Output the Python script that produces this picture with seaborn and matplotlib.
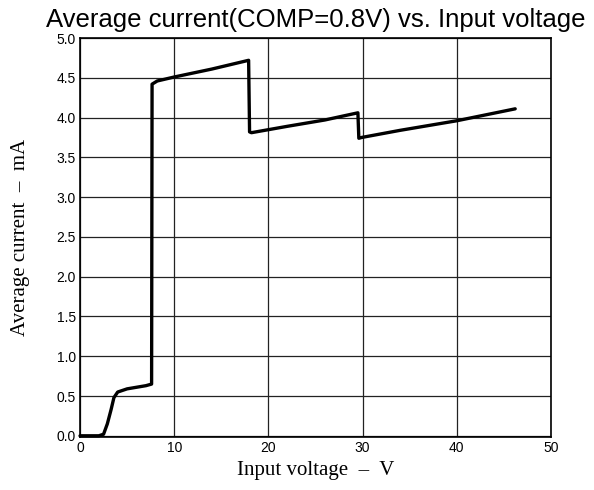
import matplotlib
matplotlib.use("Agg")
import matplotlib.pyplot as plt
import seaborn as sns
import pandas as pd

# values
voltage = [0.0, 2.0, 2.5, 2.9, 3.3, 3.6, 4.0, 5.0, 6.0, 7.0, 7.6, 7.65, 8.2, 10.0, 14.0, 17.9,
           18.0, 18.2, 22.0, 26.0, 29.5, 29.6, 29.9, 34.0, 40.0, 46.2]
current = [0.0, 0.0, 0.02, 0.15, 0.33, 0.48, 0.55, 0.59, 0.61, 0.63, 0.65, 4.42, 4.46, 4.51, 4.61, 4.72,
           3.82, 3.81, 3.89, 3.97, 4.06, 3.74, 3.75, 3.84, 3.96, 4.11]

df = pd.DataFrame({"Input voltage": voltage, "Average current": current})

sns.set_style("white")
plt.rcParams["font.family"] = ["Liberation Sans", "DejaVu Sans"]
plt.rcParams["text.color"] = "black"
plt.rcParams["axes.labelcolor"] = "black"
plt.rcParams["xtick.color"] = "black"
plt.rcParams["ytick.color"] = "black"

fig = plt.figure(figsize=(5.94, 4.90), dpi=100)
ax = fig.add_axes([0.1347, 0.1082, 0.7929, 0.8142])

sns.lineplot(data=df, x="Input voltage", y="Average current", ax=ax,
             color="black", linewidth=2.4, sort=False, estimator=None)
for l in ax.lines:
    l.set_clip_on(False)

ax.set_xlim(0, 50)
ax.set_ylim(-0.015, 5.0)
ax.set_xticks(range(0, 51, 10))
ax.set_yticks([i * 0.5 for i in range(11)])
ax.set_yticklabels([f"{i * 0.5:.1f}" for i in range(11)])
ax.grid(True, color="#222222", linewidth=0.9)
ax.tick_params(length=0, labelsize=10, pad=3)
for s in ax.spines.values():
    s.set_color("black")
    s.set_linewidth(1.2)

ax.set_title("Average current(COMP=0.8V) vs. Input voltage", fontsize=18.5, pad=8, color="black")
ax.set_xlabel("Input voltage  \u2013  V", family=["Liberation Serif", "DejaVu Serif"], fontsize=15,
              labelpad=4)
ax.set_ylabel("Average current  \u2013  mA", family=["Liberation Serif", "DejaVu Serif"], fontsize=15,
              labelpad=19)

fig.savefig("out.png", dpi=100)
